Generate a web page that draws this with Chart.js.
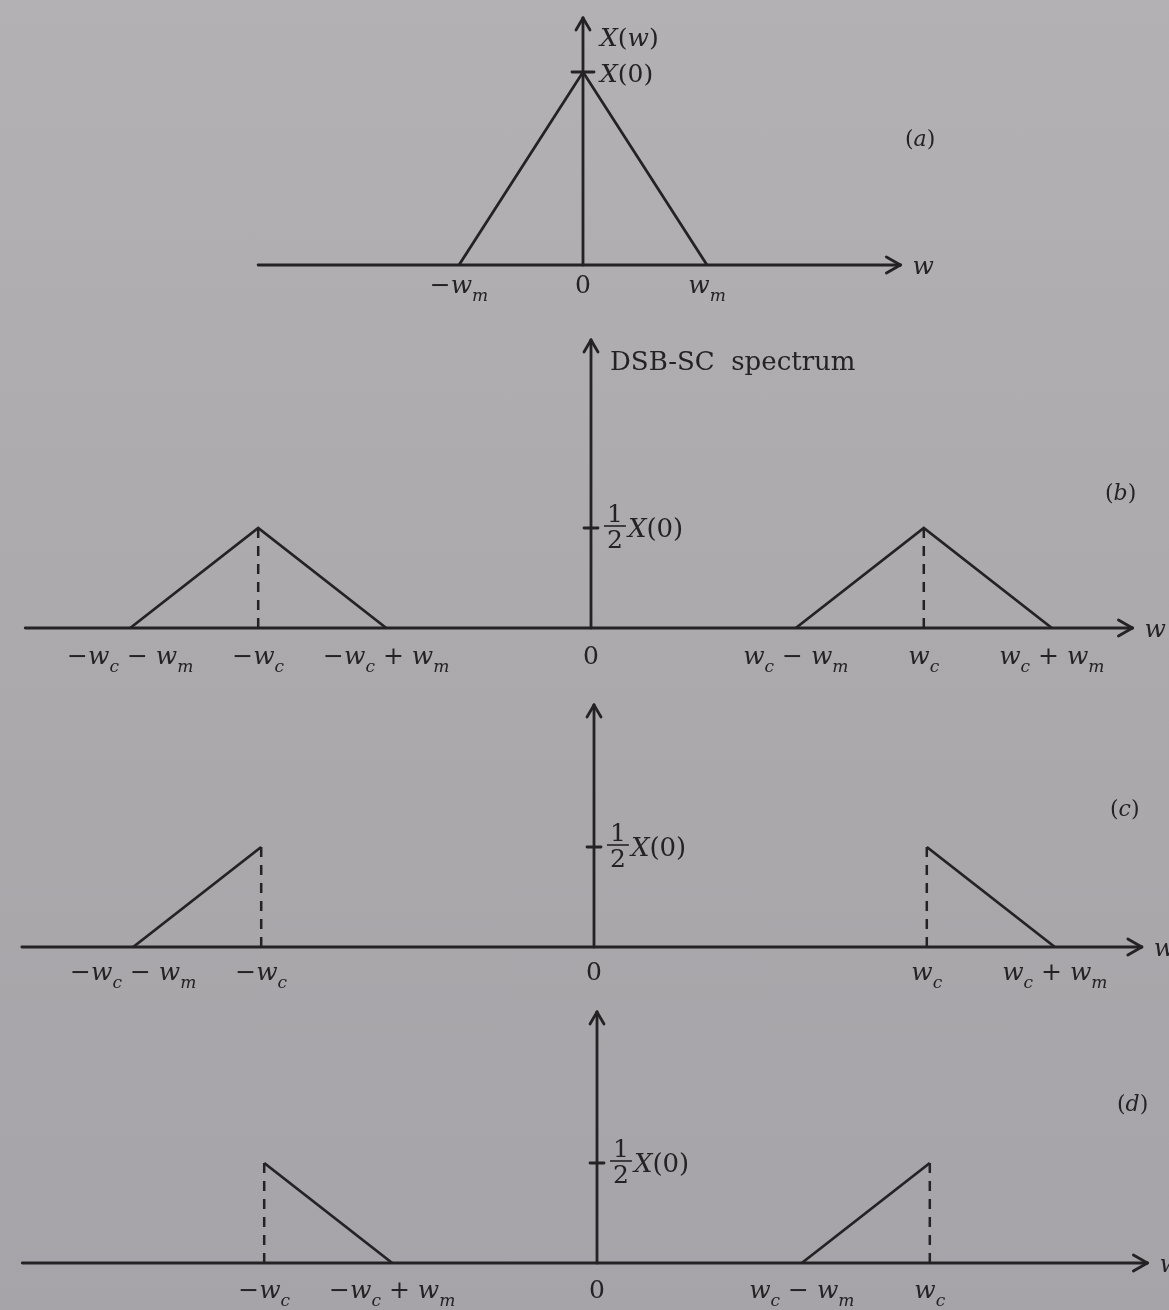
<!DOCTYPE html>
<html>
<head>
<meta charset="utf-8">
<title>DSB-SC spectrum</title>
<script src="https://cdn.jsdelivr.net/npm/chart.js@4.4.0/dist/chart.umd.min.js"></script>
<style>
  html, body { margin: 0; padding: 0; }
  body {
    width: 1169px; height: 1310px; position: relative; overflow: hidden;
    background: linear-gradient(180deg, #b3b1b4 0%, #acaaad 45%, #a6a4a8 100%);
  }
  canvas { position: absolute; left: 0; }
</style>
</head>
<body>
<canvas id="pa" width="1169" height="325" style="top:0px"></canvas>
<canvas id="pb" width="1169" height="365" style="top:325px"></canvas>
<canvas id="pc" width="1169" height="320" style="top:690px"></canvas>
<canvas id="pd" width="1169" height="310" style="top:1000px"></canvas>
<script>
// frequencies in units of the message bandwidth
const WM = 1;
const WC = 2.6;
const X0 = 1;
const HALF = X0 / 2;

// (a) message spectrum X(w)
const msgX = [-WM, 0, WM];
const msgY = [0, X0, 0];
const msgTicks = [-WM, 0, WM];
const msgTickLabels = ['−w_m', '0', 'w_m'];

// (b) DSB-SC: both sidebands round ±wc
const dsbLowX = [-WC - WM, -WC, -WC + WM];
const dsbLowY = [0, HALF, 0];
const dsbHighX = [WC - WM, WC, WC + WM];
const dsbHighY = [0, HALF, 0];
const dsbTicks = [-WC - WM, -WC, -WC + WM, 0, WC - WM, WC, WC + WM];
const dsbTickLabels = ['−w_c − w_m', '−w_c', '−w_c + w_m', '0', 'w_c − w_m', 'w_c', 'w_c + w_m'];

// (c) upper sideband only
const usbLowX = [-WC - WM, -WC];
const usbLowY = [0, HALF];
const usbHighX = [WC, WC + WM];
const usbHighY = [HALF, 0];
const usbTicks = [-WC - WM, -WC, 0, WC, WC + WM];
const usbTickLabels = ['−w_c − w_m', '−w_c', '0', 'w_c', 'w_c + w_m'];

// (d) lower sideband only
const lsbLowX = [-WC, -WC + WM];
const lsbLowY = [HALF, 0];
const lsbHighX = [WC - WM, WC];
const lsbHighY = [0, HALF];
const lsbTicks = [-WC, -WC + WM, 0, WC - WM, WC];
const lsbTickLabels = ['−w_c', '−w_c + w_m', '0', 'w_c − w_m', 'w_c'];

// dashed carrier markers
const carrierX = [-WC, WC];
const carrierY = [0, HALF];

const INK = '#242225';
const SERIF = '"DejaVu Serif", "Liberation Serif", serif';

// ---- small math text helpers: letters italic, "_x" makes a subscript ----
function runsOf(str) {
  const runs = [];
  for (let i = 0; i < str.length; i++) {
    if (str[i] === '_') { runs.push({ ch: str[++i], sub: true }); continue; }
    runs.push({ ch: str[i], sub: false });
  }
  return runs;
}
function runFont(r, size) {
  const it = /[a-zA-Z]/.test(r.ch) ? 'italic ' : '';
  return `${it}${r.sub ? Math.round(size * 0.68) : size}px ${SERIF}`;
}
function mathWidth(ctx, str, size) {
  let w = 0;
  runsOf(str).forEach(r => { ctx.font = runFont(r, size); w += ctx.measureText(r.ch).width; });
  return w;
}
function drawMath(ctx, str, x, y, size, align) {
  const runs = runsOf(str);
  let cx = align === 'center' ? x - mathWidth(ctx, str, size) / 2 : x;
  ctx.textAlign = 'left';
  ctx.textBaseline = 'alphabetic';
  runs.forEach(r => {
    ctx.font = runFont(r, size);
    ctx.fillText(r.ch, cx, y + (r.sub ? size * 0.3 : 0));
    cx += ctx.measureText(r.ch).width;
  });
}
function drawHalf(ctx, x, y, size) {
  ctx.font = `${size}px ${SERIF}`;
  ctx.textAlign = 'center';
  ctx.textBaseline = 'alphabetic';
  const w = ctx.measureText('2').width + 6;
  ctx.fillText('1', x + w / 2, y - 4);
  ctx.fillText('2', x + w / 2, y + size * 0.88);
  ctx.lineWidth = 1.6;
  ctx.beginPath(); ctx.moveTo(x, y); ctx.lineTo(x + w, y); ctx.stroke();
  return w;
}

function seg(ctx, x1, y1, x2, y2) {
  ctx.beginPath(); ctx.moveTo(x1, y1); ctx.lineTo(x2, y2); ctx.stroke();
}

// axes with arrowheads, tick labels and annotations
const specAxes = {
  id: 'specAxes',
  beforeDatasetsDraw(chart, args, o) {
    const { ctx, scales: { x, y } } = chart;
    const x0 = x.getPixelForValue(0), y0 = y.getPixelForValue(0);
    const xL = x.getPixelForValue(o.xFrom), xR = x.getPixelForValue(o.xTo);
    const yT = y.getPixelForValue(o.yTo);
    ctx.save();
    ctx.strokeStyle = INK;
    ctx.lineWidth = 2.8;
    ctx.lineCap = 'round';
    ctx.lineJoin = 'round';
    seg(ctx, xL, y0, xR, y0);
    seg(ctx, xR - 14, y0 - 8, xR, y0); seg(ctx, xR - 14, y0 + 8, xR, y0);
    seg(ctx, x0, y0, x0, yT);
    seg(ctx, x0 - 7, yT + 12, x0, yT); seg(ctx, x0 + 7, yT + 12, x0, yT);
    const yM = y.getPixelForValue(o.mark);
    seg(ctx, x0 - o.markLen, yM, x0 + o.markLen, yM);
    ctx.restore();
  },
  afterDraw(chart, args, o) {
    const { ctx, scales: { x, y } } = chart;
    const x0 = x.getPixelForValue(0), y0 = y.getPixelForValue(0);
    const xR = x.getPixelForValue(o.xTo);
    ctx.save();
    ctx.fillStyle = INK;
    ctx.strokeStyle = INK;
    o.ticks.forEach((v, i) => {
      drawMath(ctx, o.tickLabels[i], x.getPixelForValue(v), y0 + o.labelGap, o.fontSize, 'center');
    });
    drawMath(ctx, 'w', xR + 12, y0 + 9, o.fontSize, 'left');
    drawMath(ctx, o.letter, x0 + o.letterAt[0], y0 + o.letterAt[1], 22, 'left');
    const yM = y.getPixelForValue(o.mark);
    if (o.half) {
      const w = drawHalf(ctx, x0 + 13, yM - 2, 25);
      drawMath(ctx, o.markLabel, x0 + 15 + w, yM + 9, 26, 'left');
    } else {
      drawMath(ctx, o.markLabel, x0 + 17, yM + 10, 25, 'left');
    }
    if (o.axisLabel) {
      const yT = y.getPixelForValue(o.yTo);
      if (o.axisUpright) {
        ctx.font = `26px ${SERIF}`;
        ctx.textAlign = 'left';
        ctx.fillText(o.axisLabel, x0 + 19, yT + 30);
      } else {
        drawMath(ctx, o.axisLabel, x0 + 17, yT + 28, 25, 'left');
      }
    }
    ctx.restore();
  }
};

function pts(xs, ys) { return xs.map((v, i) => ({ x: v, y: ys[i] })); }
function solid(xs, ys) {
  return { data: pts(xs, ys), borderColor: INK, borderWidth: 2.8, pointRadius: 0, tension: 0, fill: false };
}
function dashed(xv) {
  return { data: pts([xv, xv], carrierY), borderColor: INK, borderWidth: 2.5, borderDash: [10, 8],
           pointRadius: 0, tension: 0, fill: false };
}

// layout of one panel: origin pixel inside its canvas and pixels per unit
function makePanel(id, lay, datasets, axes) {
  const cv = document.getElementById(id);
  const W = cv.width, H = cv.height;
  new Chart(cv.getContext('2d'), {
    type: 'line',
    data: { datasets },
    plugins: [specAxes],
    options: {
      responsive: false,
      animation: false,
      devicePixelRatio: 1,
      layout: { padding: 0 },
      plugins: { legend: { display: false }, tooltip: { enabled: false }, specAxes: axes },
      scales: {
        x: { type: 'linear', display: false, min: -lay.ox / lay.ux, max: (W - lay.ox) / lay.ux },
        y: { type: 'linear', display: false, min: -(H - lay.oy) / lay.uy, max: lay.oy / lay.uy }
      }
    }
  });
}

makePanel('pa', { ox: 583, oy: 265, ux: 124, uy: 193 },
  [solid(msgX, msgY)],
  { xFrom: -2.62, xTo: 2.56, yTo: 1.28, mark: X0, markLen: 11, markLabel: 'X(0)', half: false,
    axisLabel: 'X(w)', ticks: msgTicks, tickLabels: msgTickLabels, labelGap: 28, fontSize: 25,
    letter: '(a)', letterAt: [322, -119] });

makePanel('pb', { ox: 591, oy: 303, ux: 128, uy: 200 },
  [solid(dsbLowX, dsbLowY), solid(dsbHighX, dsbHighY), dashed(carrierX[0]), dashed(carrierX[1])],
  { xFrom: -4.42, xTo: 4.23, yTo: 1.44, mark: HALF, markLen: 7, markLabel: 'X(0)', half: true,
    axisLabel: 'DSB-SC  spectrum', axisUpright: true, ticks: dsbTicks, tickLabels: dsbTickLabels,
    labelGap: 36, fontSize: 25, letter: '(b)', letterAt: [514, -128] });

makePanel('pc', { ox: 594, oy: 257, ux: 128, uy: 200 },
  [solid(usbLowX, usbLowY), solid(usbHighX, usbHighY), dashed(carrierX[0]), dashed(carrierX[1])],
  { xFrom: -4.47, xTo: 4.28, yTo: 1.21, mark: HALF, markLen: 7, markLabel: 'X(0)', half: true,
    ticks: usbTicks, tickLabels: usbTickLabels, labelGap: 33, fontSize: 25,
    letter: '(c)', letterAt: [516, -131] });

makePanel('pd', { ox: 597, oy: 263, ux: 128, uy: 200 },
  [solid(lsbLowX, lsbLowY), solid(lsbHighX, lsbHighY), dashed(carrierX[0]), dashed(carrierX[1])],
  { xFrom: -4.49, xTo: 4.30, yTo: 1.255, mark: HALF, markLen: 7, markLabel: 'X(0)', half: true,
    ticks: lsbTicks, tickLabels: lsbTickLabels, labelGap: 35, fontSize: 25,
    letter: '(d)', letterAt: [520, -152] });
</script>
</body>
</html>
